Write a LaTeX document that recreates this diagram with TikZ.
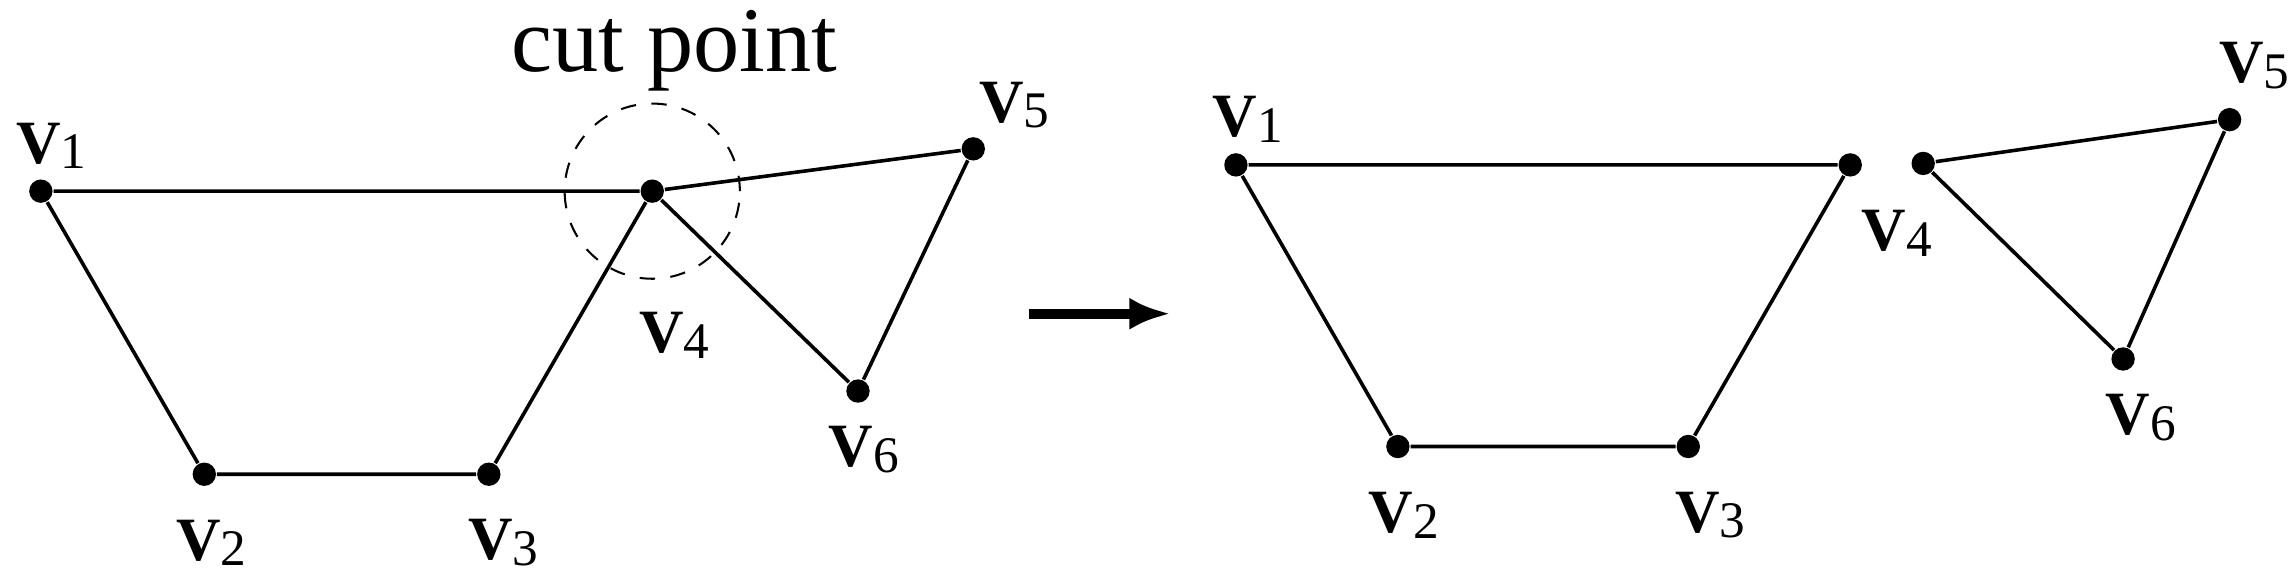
\documentclass[tikz,border=0pt]{standalone}
\usepackage{fontspec}
\usetikzlibrary{arrows.meta}
\setmainfont{Liberation Serif}
\begin{document}
\begin{tikzpicture}[x=0.01cm,y=-0.01cm,
  dot/.style={circle,fill=black,inner sep=0pt,minimum size=0.16cm},
  lab/.style={font=\fontsize{12}{12}\selectfont},
  edge/.style={line width=0.7pt}]
\useasboundingbox (0,0) rectangle (1568,394);
\newcommand{\vl}[1]{\textbf{V}\raisebox{-0.2ex}{\fontsize{10}{10}\selectfont #1}}
% left
\node[dot] (a1) at (28,131) {};
\node[dot] (a2) at (140,325) {};
\node[dot] (a3) at (335,325) {};
\node[dot] (a4) at (447,131) {};
\node[dot] (a5) at (667,102) {};
\node[dot] (a6) at (588,268) {};
\draw[edge] (a1)--(a4) (a1)--(a2)--(a3)--(a4)--(a5)--(a6)--(a4);
\node[circle,draw,dashed,minimum size=1.2cm] (c) at (447,131) {};
\node[font=\fontsize{18}{18}\selectfont] (ct) at (462,35) {cut point};
\node[lab] (l1) at (35,100) {\vl{1}};
\node[lab] (l2) at (145,372) {\vl{2}};
\node[lab] (l3) at (345,372) {\vl{3}};
\node[lab] (l4) at (462,230) {\vl{4}};
\node[lab] (l5) at (695,72) {\vl{5}};
\node[lab] (l6) at (592,308) {\vl{6}};
% arrow
\coordinate (s) at (705,215); \coordinate (t) at (802,215);
\draw[line width=2pt,-{Latex[length=0.28cm,width=0.22cm]}] (s)--(t);
% right
\node[dot] (b1) at (847,113) {};
\node[dot] (b2) at (958,306) {};
\node[dot] (b3) at (1157,306) {};
\node[dot] (b7) at (1268,113) {};
\node[dot] (b4) at (1318,112) {};
\node[dot] (b5) at (1528,82) {};
\node[dot] (b6) at (1455,246) {};
\draw[edge] (b1)--(b7)--(b3)--(b2)--(b1);
\draw[edge] (b4)--(b5)--(b6)--(b4);
\node[lab] (r1) at (855,82) {\vl{1}};
\node[lab] (r2) at (962,353) {\vl{2}};
\node[lab] (r3) at (1172,353) {\vl{3}};
\node[lab] (r4) at (1300,160) {\vl{4}};
\node[lab] (r5) at (1545,45) {\vl{5}};
\node[lab] (r6) at (1467,286) {\vl{6}};
\end{tikzpicture}
\end{document}
